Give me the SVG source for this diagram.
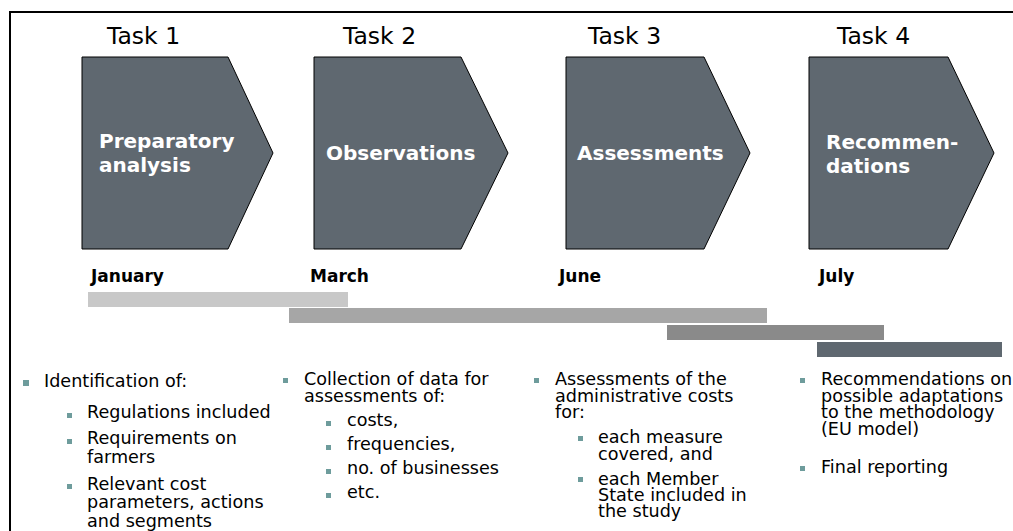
<svg xmlns="http://www.w3.org/2000/svg" width="1013" height="531" viewBox="0 0 1013 531">
<style>
.task{font-family:"DejaVu Sans",Verdana,sans-serif;font-size:23.5px;fill:#000}
.shape{fill:#5f6870;stroke:#000;stroke-width:1}
.lbl{font-family:"DejaVu Sans",Verdana,sans-serif;font-size:20px;font-weight:bold;fill:#fff}
.mon{font-family:"DejaVu Sans",Verdana,sans-serif;font-size:17px;font-weight:bold;fill:#000}
.txt{font-family:"DejaVu Sans",Verdana,sans-serif;font-size:17.6px;fill:#000}
.bul{fill:#6e9c9c}
</style>
<rect width="1013" height="531" fill="#fff"/>
<path d="M10,540 L10,12 L1020,12" fill="none" stroke="#000" stroke-width="2"/>

<g id="task1">
<text class="task" x="107" y="44">Task 1</text>
<polygon class="shape" points="82,57 228,57 273,153 228,249 82,249"/>
<text class="lbl" x="99" y="148">Preparatory</text>
<text class="lbl" x="99" y="172">analysis</text>
</g>
<g id="task2">
<text class="task" x="343" y="44">Task 2</text>
<polygon class="shape" points="314,57 461,57 508,153 461,249 314,249"/>
<text class="lbl" x="326" y="160">Observations</text>
</g>
<g id="task3">
<text class="task" x="588" y="44">Task 3</text>
<polygon class="shape" points="566,57 704,57 750,153 704,249 566,249"/>
<text class="lbl" x="577" y="160">Assessments</text>
</g>
<g id="task4">
<text class="task" x="837" y="44">Task 4</text>
<polygon class="shape" points="809,57 948,57 994,153 948,249 809,249"/>
<text class="lbl" x="826" y="149">Recommen-</text>
<text class="lbl" x="826" y="173">dations</text>
</g>

<g id="timeline">
<text class="mon" x="91" y="282">January</text>
<text class="mon" x="310" y="282">March</text>
<text class="mon" x="559" y="282">June</text>
<text class="mon" x="819" y="282">July</text>
<rect x="88" y="292" width="260" height="15" fill="#c8c8c8"/>
<rect x="289" y="308" width="478" height="15" fill="#a6a6a6"/>
<rect x="667" y="325" width="217" height="15" fill="#8a8a8a"/>
<rect x="817" y="342" width="185" height="15" fill="#5f6870"/>
</g>

<g id="col1">
<rect class="bul" x="23" y="380" width="6" height="6"/>
<text class="txt" x="44" y="387">Identification of:</text>
<rect class="bul" x="67" y="413" width="5" height="5"/>
<text class="txt" x="87" y="418">Regulations included</text>
<rect class="bul" x="67" y="439" width="5" height="5"/>
<text class="txt" x="87" y="444">Requirements on</text>
<text class="txt" x="87" y="463">farmers</text>
<rect class="bul" x="67" y="484" width="5" height="5"/>
<text class="txt" x="87" y="490">Relevant cost</text>
<text class="txt" x="87" y="508">parameters, actions</text>
<text class="txt" x="87" y="527">and segments</text>
</g>

<g id="col2">
<rect class="bul" x="283" y="378" width="5" height="5"/>
<text class="txt" x="304" y="385">Collection of data for</text>
<text class="txt" x="304" y="402">assessments of:</text>
<rect class="bul" x="326" y="421" width="5" height="5"/>
<text class="txt" x="347" y="426">costs,</text>
<rect class="bul" x="326" y="445" width="5" height="5"/>
<text class="txt" x="347" y="450">frequencies,</text>
<rect class="bul" x="326" y="469" width="5" height="5"/>
<text class="txt" x="347" y="474">no. of businesses</text>
<rect class="bul" x="326" y="493" width="5" height="5"/>
<text class="txt" x="347" y="498">etc.</text>
</g>

<g id="col3">
<rect class="bul" x="534" y="378" width="5" height="5"/>
<text class="txt" x="555" y="385">Assessments of the</text>
<text class="txt" x="555" y="402">administrative costs</text>
<text class="txt" x="555" y="418">for:</text>
<rect class="bul" x="578" y="436" width="5" height="5"/>
<text class="txt" x="598" y="443">each measure</text>
<text class="txt" x="598" y="460">covered, and</text>
<rect class="bul" x="578" y="477" width="5" height="5"/>
<text class="txt" x="598" y="485">each Member</text>
<text class="txt" x="598" y="501">State included in</text>
<text class="txt" x="598" y="517">the study</text>
</g>

<g id="col4">
<rect class="bul" x="800" y="378" width="5" height="5"/>
<text class="txt" x="821" y="385">Recommendations on</text>
<text class="txt" x="821" y="402">possible adaptations</text>
<text class="txt" x="821" y="418">to the methodology</text>
<text class="txt" x="821" y="435">(EU model)</text>
<rect class="bul" x="800" y="466" width="5" height="5"/>
<text class="txt" x="821" y="473">Final reporting</text>
</g>
</svg>
